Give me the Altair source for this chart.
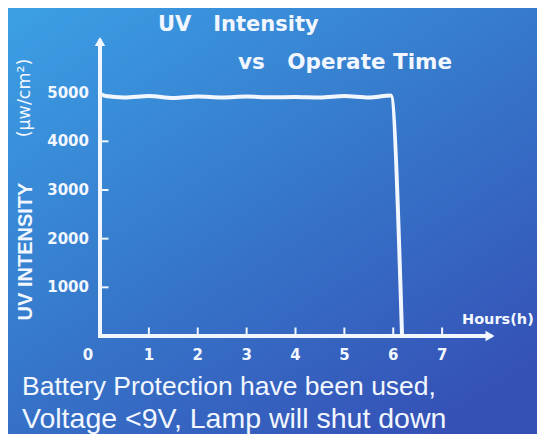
import altair as alt
import pandas as pd

# ---- data ----
hours = [0, 0.12, 0.5, 1.0, 1.5, 2.0, 2.5, 3.0, 3.5, 4.0, 4.5, 5.0, 5.5, 5.95, 6.18]
intensity = [4980, 4930, 4900, 4930, 4890, 4920, 4900, 4920, 4905, 4910, 4900, 4930, 4900, 4940, 0]
x_ticks = [1, 2, 3, 4, 5, 6, 7]
y_ticks = [1000, 2000, 3000, 4000, 5000]
NB = "\u00a0"
title_lines = ["UV" + NB * 3 + "Intensity", "vs" + NB * 3 + "Operate Time"]
y_title = "UV INTENSITY"
y_unit = "(μw/cm²)"
x_title = "Hours(h)"
note_lines = ["Battery Protection have been used,", "Voltage <9V, Lamp will shut down"]

W, H = 391, 292
PL, PT, PR, PB = 92, 36, 46, 98
WHITE = "#f2f7ff"

df = pd.DataFrame({"hour": hours, "uv": intensity})
one = pd.DataFrame({"k": [0]})
xt = pd.DataFrame({"t": x_ticks})
yt_all = pd.DataFrame({"t": y_ticks})
yt = pd.DataFrame({"t": y_ticks[:-1]})

xs = alt.Scale(domain=[0, 8], nice=False)
ys = alt.Scale(domain=[0, 6000], nice=False)

grad = alt.LinearGradient(
    gradient="linear",
    stops=[alt.GradientStop(color="#3ca0e5", offset=0),
           alt.GradientStop(color="#3679cb", offset=0.5),
           alt.GradientStop(color="#3551b6", offset=1)],
    x1=0, y1=0, x2=0.8, y2=1)

bg = alt.Chart(one).mark_rect(fill=grad).encode(
    x=alt.value(-PL), x2=alt.value(W + PR), y=alt.value(-PT), y2=alt.value(H + PB))

line = alt.Chart(df).mark_line(color=WHITE, strokeWidth=4, interpolate="monotone",
                               strokeCap="round", strokeJoin="round").encode(
    x=alt.X("hour:Q", scale=xs, axis=None),
    y=alt.Y("uv:Q", scale=ys, axis=None),
)

yaxis = alt.Chart(one).mark_rule(color=WHITE, strokeWidth=4, strokeCap="square").encode(
    x=alt.datum(0), y=alt.datum(0), y2=alt.datum(6050))
xaxis = alt.Chart(one).mark_rule(color=WHITE, strokeWidth=4, strokeCap="square").encode(
    x=alt.datum(0), x2=alt.datum(7.98), y=alt.datum(0))
up = alt.Chart(one).mark_point(shape="triangle-up", filled=True, size=110, color=WHITE, opacity=1).encode(
    x=alt.datum(0), y=alt.datum(6050))
right = alt.Chart(one).mark_point(shape="triangle-right", filled=True, size=110, color=WHITE, opacity=1).encode(
    x=alt.datum(7.98), y=alt.datum(0))

xtk = alt.Chart(xt).mark_tick(orient="vertical", size=7, thickness=2, color=WHITE, yOffset=-5, opacity=1).encode(
    x="t:Q", y=alt.datum(0))
ytk = alt.Chart(yt).mark_tick(orient="horizontal", size=7, thickness=2, color=WHITE, xOffset=5, opacity=1).encode(
    y="t:Q", x=alt.datum(0))

lab_style = dict(font="DejaVu Sans", fontWeight="bold", fontSize=15, color=WHITE)
xlab = alt.Chart(xt).mark_text(dy=19, baseline="middle", **lab_style).encode(
    x="t:Q", y=alt.datum(0), text="t:Q")
ylab = alt.Chart(yt_all).mark_text(dx=-11, align="right", baseline="middle", **lab_style).encode(
    y="t:Q", x=alt.datum(0), text="t:Q")
zero = alt.Chart(one).mark_text(text="0", dx=-12, dy=19, baseline="middle", **lab_style).encode(
    x=alt.datum(0), y=alt.datum(0))


def txt(s, x, y, font, size, weight="normal", angle=0, align="left", baseline="alphabetic"):
    return alt.Chart(one).mark_text(text=s, font=font, fontSize=size, fontWeight=weight,
                                    color=WHITE, angle=angle, align=align, baseline=baseline).encode(
        x=alt.value(x), y=alt.value(y))


texts = [
    txt(title_lines[0], 58, -13.5, "DejaVu Sans", 21, "bold"),
    txt(title_lines[1], 138, 25, "DejaVu Sans", 21.5, "bold"),
    txt(y_title, -74.5, 207.5, "Liberation Sans", 20, "bold", angle=270, align="center", baseline="middle"),
    txt(y_unit, -75, 54, "DejaVu Sans", 17.5, "normal", angle=270, align="center", baseline="middle"),
    txt(x_title, 362, 280, "DejaVu Sans", 14.5, "bold"),
    txt(note_lines[0], -78, 351, "Liberation Sans", 26.5),
    txt(note_lines[1], -78, 384, "Liberation Sans", 28.5),
]

chart = alt.layer(bg, line, yaxis, xaxis, up, right, xtk, ytk, xlab, ylab, zero, *texts).properties(
    width=W, height=H,
    autosize=alt.AutoSizeParams(type="none"),
    padding={"left": PL, "top": PT, "right": PR, "bottom": PB},
    background="#3679cb",
).configure_view(stroke=None).configure_axis(grid=False, domain=False, ticks=False, labels=False)

chart.save("out.html", embed_options={"renderer": "svg", "actions": False})
